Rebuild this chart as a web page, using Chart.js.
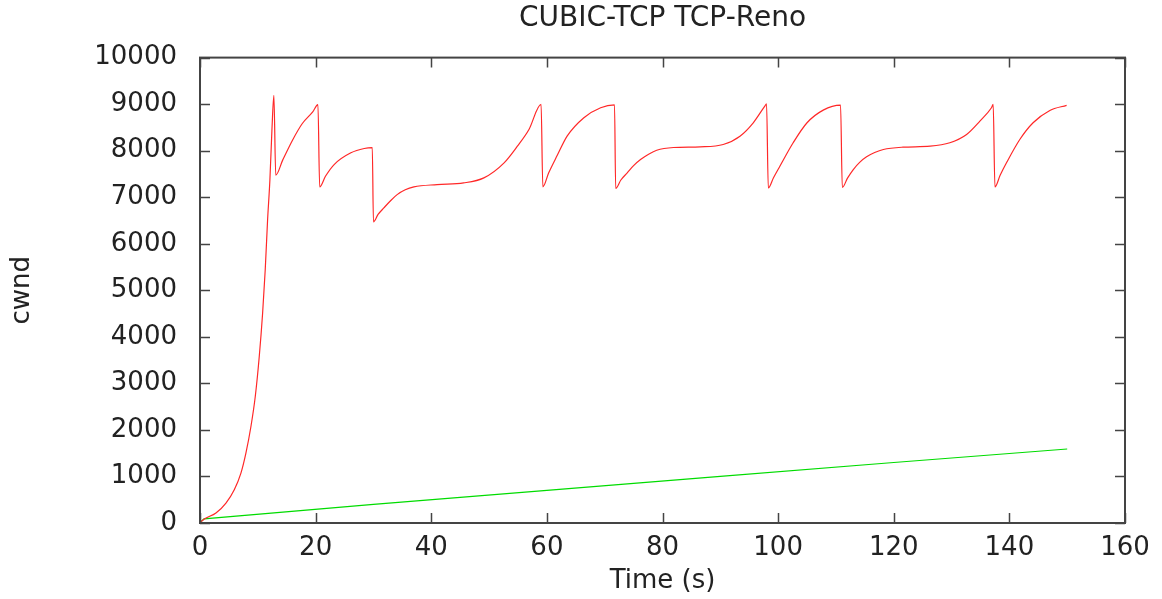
<!DOCTYPE html>
<html lang="en">
  <head>
    <meta charset="UTF-8" />
    <title>CUBIC-TCP TCP-Reno</title>
    <style>
      body { margin: 0; background: #fff; }
    </style>
  </head>
  <body>
    <canvas id="cwndChart" width="1162" height="599"></canvas>
    <script src="https://cdn.jsdelivr.net/npm/chart.js"></script>
    <script>
      // values (time in s, cwnd)
      const cubicTime = [
        0, 0.75, 2.76, 4.49, 5.93, 7.08, 7.94, 8.81, 9.56, 10.25, 10.83, 11.28, 11.69, 12.09, 12.44, 12.78,
        13.1, 14.3, 16.0, 17.7, 19.5, 20.4,
        20.7, 21.7, 23.2, 26.1, 28.4, 29.8,
        30.0, 30.8, 31.8, 33.0, 34.1, 35.5, 37.0, 41.0, 45.6, 49.1, 52.6, 54.9, 56.9, 59.0,
        59.3, 60.3, 61.8, 63.5, 66.4, 69.3, 71.7,
        71.9, 72.8, 73.9, 75.0, 76.2, 77.6, 79.0, 81.9, 86.5, 90.5, 93.4, 95.7, 97.7, 98.0,
        98.3, 99.2, 100.3, 102.6, 105.0, 107.8, 110.8,
        111.1, 112.0, 113.0, 114.1, 115.3, 116.7, 118.2, 121.6, 126.3, 129.7, 132.6, 134.9, 136.9, 137.2,
        137.5, 138.4, 139.5, 141.8, 144.1, 147.0, 149.9,
      ];
      const cubicCwnd = [
        10, 86, 215, 429, 715, 1073, 1502, 2074, 2718, 3577, 4506, 5436, 6509, 7368, 8440, 9191,
        7475, 7797, 8226, 8584, 8834, 8990,
        7222, 7450, 7702, 7954, 8047, 8065,
        6470, 6630, 6770, 6930, 7056, 7160, 7222, 7272, 7308, 7416, 7739, 8097, 8456, 8994,
        7222, 7520, 7900, 8312, 8708, 8923, 8985,
        7190, 7370, 7523, 7680, 7810, 7925, 8010, 8068, 8083, 8133, 8312, 8600, 8958, 9005,
        7200, 7420, 7666, 8170, 8600, 8872, 8980,
        7210, 7410, 7595, 7750, 7868, 7960, 8026, 8075, 8096, 8170, 8348, 8635, 8923, 8994,
        7222, 7470, 7739, 8240, 8600, 8865, 8975,
      ];
      const renoTime = [0, 0.7, 30, 60, 90, 120, 150];
      const renoCwnd = [10, 90, 400, 700, 1000, 1300, 1590];

      const xTicks = [0, 20, 40, 60, 80, 100, 120, 140, 160];
      const yTicks = [0, 1000, 2000, 3000, 4000, 5000, 6000, 7000, 8000, 9000, 10000];

      const toPoints = (xs, ys) => xs.map((x, i) => ({ x: x, y: ys[i] }));

      const fontFamily = '"DejaVu Sans", sans-serif';
      const inkColor = '#222';
      const frameColor = '#444';

      // gnuplot style frame with inward ticks on all four sides
      const framePlugin = {
        id: 'frame',
        afterDatasetsDraw(chart) {
          const { ctx, chartArea: a, scales } = chart;
          const len = 10;
          ctx.save();
          ctx.strokeStyle = frameColor;
          ctx.lineWidth = 1.5;
          ctx.beginPath();
          xTicks.forEach((v) => {
            const px = Math.round(scales.x.getPixelForValue(v)) + 0.5;
            ctx.moveTo(px, a.bottom);
            ctx.lineTo(px, a.bottom - len);
            ctx.moveTo(px, a.top);
            ctx.lineTo(px, a.top + len);
          });
          yTicks.forEach((v) => {
            const py = Math.round(scales.y.getPixelForValue(v)) + 0.5;
            ctx.moveTo(a.left, py);
            ctx.lineTo(a.left + len, py);
            ctx.moveTo(a.right, py);
            ctx.lineTo(a.right - len, py);
          });
          ctx.stroke();
          ctx.lineWidth = 2;
          ctx.strokeRect(a.left, a.top, a.right - a.left, a.bottom - a.top);
          ctx.restore();
        },
      };

      const context = document.getElementById('cwndChart').getContext('2d');

      const chart = new Chart(context, {
        type: 'scatter',
        data: {
          datasets: [
            {
              label: 'CUBIC-TCP',
              data: toPoints(cubicTime, cubicCwnd),
              showLine: true,
              borderColor: 'rgb(255, 40, 40)',
              borderWidth: 1.2,
              pointRadius: 0,
              cubicInterpolationMode: 'monotone',
            },
            {
              label: 'TCP-Reno',
              data: toPoints(renoTime, renoCwnd),
              showLine: true,
              borderColor: 'rgb(0, 220, 0)',
              borderWidth: 1.2,
              pointRadius: 0,
            },
          ],
        },
        options: {
          responsive: false,
          animation: false,
          layout: { padding: { left: 0, right: 37, top: 0, bottom: 0 } },
          plugins: {
            legend: { display: false },
            tooltip: { enabled: false },
            title: {
              display: true,
              fullSize: false,
              text: 'CUBIC-TCP TCP-Reno',
              color: inkColor,
              font: { family: fontFamily, size: 28, weight: 'normal' },
              padding: { top: 2, bottom: 22 },
            },
          },
          scales: {
            x: {
              type: 'linear',
              min: 0,
              max: 160,
              afterBuildTicks: (s) => { s.ticks = xTicks.map((v) => ({ value: v })); },
              afterFit: (s) => { s.height = 76; },
              grid: { display: false },
              border: { display: false },
              ticks: {
                color: inkColor,
                padding: 2,
                font: { family: fontFamily, size: 26 },
                callback: (v) => String(v),
              },
              title: {
                display: true,
                text: 'Time (s)',
                color: inkColor,
                font: { family: fontFamily, size: 26 },
                padding: { top: 0, bottom: 2 },
              },
            },
            y: {
              type: 'linear',
              min: 0,
              max: 10000,
              afterBuildTicks: (s) => { s.ticks = yTicks.map((v) => ({ value: v })); },
              afterFit: (s) => { s.width = 200; },
              grid: { display: false },
              border: { display: false },
              ticks: {
                color: inkColor,
                padding: 15,
                font: { family: fontFamily, size: 26 },
                callback: (v) => String(v),
              },
              title: {
                display: true,
                text: 'cwnd',
                color: inkColor,
                font: { family: fontFamily, size: 26 },
                padding: { top: 7, bottom: 0 },
              },
            },
          },
        },
        plugins: [framePlugin],
      });
    </script>
  </body>
</html>
